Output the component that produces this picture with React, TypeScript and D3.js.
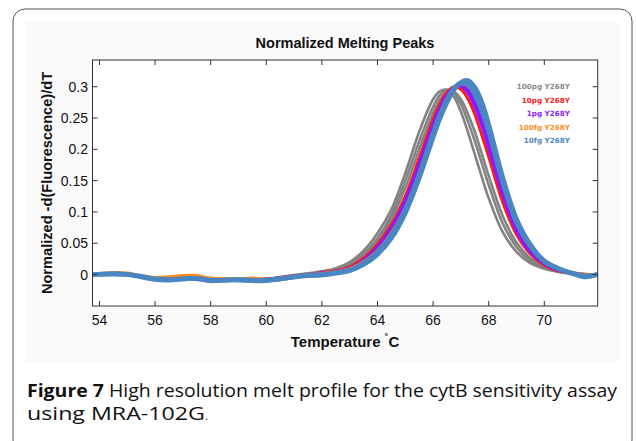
import React from "react";
import * as d3 from "d3";

const temps = [53.75,54.5,55,55.5,56,56.5,57,57.5,58,58.5,59,59.5,60,60.5,61,61.5,62,62.5,63,63.5,64,64.5,65,65.5,66,66.25,66.5,66.75,67,67.25,67.5,67.75,68,68.5,69,69.5,70,70.5,71,71.5,71.92];

const gray1 = [0.000,0.002,0.001,-0.003,-0.006,-0.006,-0.004,-0.005,-0.007,-0.007,-0.008,-0.008,-0.007,-0.004,-0.001,0.002,0.005,0.010,0.020,0.038,0.066,0.104,0.162,0.228,0.280,0.293,0.295,0.284,0.260,0.228,0.192,0.156,0.122,0.068,0.036,0.018,0.009,0.004,0.001,0.000,0.000];
const gray2 = [0.000,0.002,0.001,-0.002,-0.005,-0.006,-0.005,-0.005,-0.006,-0.007,-0.007,-0.008,-0.007,-0.005,-0.002,0.001,0.004,0.008,0.017,0.033,0.058,0.095,0.150,0.213,0.268,0.287,0.295,0.290,0.272,0.245,0.213,0.178,0.143,0.082,0.044,0.022,0.011,0.005,0.002,0.000,0.000];
const gray3 = [0.000,0.001,0.000,-0.003,-0.006,-0.007,-0.005,-0.006,-0.007,-0.008,-0.008,-0.008,-0.008,-0.005,-0.002,0.001,0.003,0.007,0.015,0.030,0.052,0.088,0.138,0.200,0.258,0.280,0.291,0.292,0.280,0.257,0.228,0.193,0.158,0.094,0.051,0.026,0.012,0.005,0.002,0.000,0.000];
const red1 = [0.000,0.001,0.000,-0.003,-0.006,-0.007,-0.005,-0.006,-0.008,-0.008,-0.008,-0.008,-0.007,-0.005,-0.002,0.000,0.003,0.006,0.012,0.026,0.048,0.080,0.125,0.186,0.248,0.273,0.291,0.300,0.296,0.281,0.256,0.223,0.188,0.116,0.064,0.033,0.015,0.006,0.002,0.000,0.000];
const purple1 = [0.000,0.001,0.000,-0.003,-0.007,-0.007,-0.006,-0.007,-0.010,-0.009,-0.008,-0.009,-0.008,-0.006,-0.003,-0.001,0.002,0.005,0.010,0.023,0.044,0.075,0.118,0.177,0.240,0.267,0.287,0.299,0.301,0.290,0.268,0.238,0.202,0.128,0.070,0.036,0.017,0.007,0.002,0.000,0.000];
const purple2 = [0.000,0.001,0.000,-0.003,-0.006,-0.007,-0.006,-0.008,-0.011,-0.009,-0.008,-0.008,-0.008,-0.006,-0.003,-0.001,0.002,0.004,0.009,0.021,0.040,0.070,0.111,0.169,0.232,0.260,0.283,0.298,0.303,0.295,0.276,0.248,0.212,0.136,0.075,0.039,0.018,0.008,0.002,0.000,0.000];
const orange1 = [0.000,0.003,0.002,-0.002,-0.005,-0.004,-0.002,-0.002,-0.006,-0.007,-0.007,-0.006,-0.008,-0.008,-0.004,-0.001,0.001,0.004,0.009,0.020,0.038,0.066,0.105,0.161,0.226,0.255,0.280,0.297,0.305,0.302,0.287,0.262,0.228,0.150,0.085,0.045,0.021,0.009,0.003,0.000,0.000];
const blue1 = [0.000,0.001,0.000,-0.004,-0.008,-0.009,-0.007,-0.006,-0.010,-0.009,-0.009,-0.010,-0.010,-0.007,-0.004,-0.002,-0.001,0.002,0.006,0.016,0.032,0.058,0.098,0.154,0.219,0.250,0.275,0.295,0.307,0.310,0.299,0.276,0.240,0.156,0.089,0.048,0.022,0.010,0.002,-0.004,0.000];
const blue2 = [0.000,0.001,0.000,-0.003,-0.007,-0.008,-0.007,-0.006,-0.009,-0.009,-0.008,-0.009,-0.009,-0.007,-0.004,-0.001,0.000,0.003,0.007,0.018,0.036,0.063,0.104,0.160,0.226,0.256,0.280,0.298,0.306,0.303,0.288,0.262,0.228,0.148,0.083,0.045,0.021,0.009,0.002,-0.002,0.000];

const seriesNames = ["100pg Y268Y", "10pg Y268Y", "1pg Y268Y", "100fg Y268Y", "10fg Y268Y"];
const seriesColors = ["#838383", "#ff1a1a", "#8c1aff", "#ff8a1a", "#4a87c2"];
const seriesLegendColors = ["#8a8a8a", "#ff2020", "#8a25ff", "#ff8c20", "#4e88c4"];
const seriesReplicates = [[gray1, gray2, gray3], [red1], [purple1, purple2], [orange1], [blue1, blue2]];
const seriesWidths = [2.6, 3, 3, 3.4, 4.6];

const xTicks = [54, 56, 58, 60, 62, 64, 66, 68, 70];
const yTicks = [0, 0.05, 0.1, 0.15, 0.2, 0.25, 0.3];

export default function App() {
  const left = 92.5, right = 597.7, top = 60, bottom = 306;
  const x = d3.scaleLinear().domain([53.75, 71.92]).range([left, right]);
  const y = d3.scaleLinear().domain([-0.0503, 0.3427]).range([bottom, top]);
  const line = d3
    .line<number>()
    .x((_, i) => x(temps[i]))
    .y((v) => y(v))
    .curve(d3.curveCatmullRom.alpha(0.5));
  const fmt = (v: number) => (v === 0 ? "0" : String(v));
  const tickLen = 5;
  const sans = "'Liberation Sans', Arial, sans-serif";
  return (
    <svg
      width={636}
      height={441}
      style={{ position: "absolute", left: 0, top: 0, background: "#fff" }}
    >
      <rect x={13} y={9} width={619} height={443} rx={12} ry={12} fill="#fff" stroke="#555" strokeWidth={1} />
      <rect x={25} y={22} width={595} height={340} fill="#fafafa" />
      <rect x={left} y={top} width={right - left} height={bottom - top} fill="#fff" />
      <clipPath id="plotclip">
        <rect x={left} y={top} width={right - left} height={bottom - top} />
      </clipPath>
      <g clipPath="url(#plotclip)">
        {seriesReplicates.map((reps, si) =>
          reps.map((vals, ri) => (
            <path
              key={`${si}-${ri}`}
              d={line(vals) || ""}
              fill="none"
              stroke={seriesColors[si]}
              strokeWidth={seriesWidths[si]}
              strokeLinejoin="round"
              strokeLinecap="round"
            />
          ))
        )}
      </g>
      <rect x={left} y={top} width={right - left} height={bottom - top} fill="none" stroke="#333" strokeWidth={1} />
      {xTicks.map((t) => (
        <g key={`xt${t}`}>
          <line x1={x(t)} x2={x(t)} y1={bottom} y2={bottom - tickLen} stroke="#333" />
          <line x1={x(t)} x2={x(t)} y1={top} y2={top + tickLen} stroke="#333" />
          <text x={x(t)} y={325} textAnchor="middle" fontFamily={sans} fontSize={14} fill="#111">
            {t}
          </text>
        </g>
      ))}
      {yTicks.map((t) => (
        <g key={`yt${t}`}>
          <line x1={left} x2={left + tickLen} y1={y(t)} y2={y(t)} stroke="#333" />
          <line x1={right} x2={right - tickLen} y1={y(t)} y2={y(t)} stroke="#333" />
          <text x={88} y={y(t) + 5} textAnchor="end" fontFamily={sans} fontSize={14} fill="#111">
            {fmt(t)}
          </text>
        </g>
      ))}
      <text x={345} y={48} textAnchor="middle" fontFamily={sans} fontWeight="bold" fontSize={14.5} fill="#111">
        Normalized Melting Peaks
      </text>
      <text x={345} y={347} textAnchor="middle" fontFamily={sans} fontWeight="bold" fontSize={15} fill="#111">
        Temperature <tspan fontSize={11} dy={-5}>˚</tspan><tspan dy={5}>C</tspan>
      </text>
      <text
        transform={`translate(52, 183) rotate(-90)`}
        textAnchor="middle"
        fontFamily={sans}
        fontWeight="bold"
        fontSize={14.6}
        fill="#111"
      >
        Normalized -d(Fluorescence)/dT
      </text>
      {seriesNames.map((n, i) => (
        <text
          key={n}
          x={570}
          y={89 + i * 13.5}
          textAnchor="end"
          fontFamily="'DejaVu Sans', Verdana, sans-serif"
          fontWeight="bold"
          fontSize={7.2}
          fill={seriesLegendColors[i]}
        >
          {n}
        </text>
      ))}
      <text x={27} y={397} fontFamily="'Open Sans', 'Noto Sans', sans-serif" fontSize={18} fontWeight={500} fill="#111" textLength={590} lengthAdjust="spacingAndGlyphs">
        <tspan fontWeight="bold">Figure 7</tspan> High resolution melt profile for the cytB sensitivity assay
      </text>
      <text x={27} y={420} fontFamily="'Open Sans', 'Noto Sans', sans-serif" fontSize={18} fontWeight={500} fill="#111">
        <tspan textLength={178} lengthAdjust="spacingAndGlyphs">using MRA-102G</tspan>
        <tspan fontSize={11}>.</tspan>
      </text>
    </svg>
  );
}
